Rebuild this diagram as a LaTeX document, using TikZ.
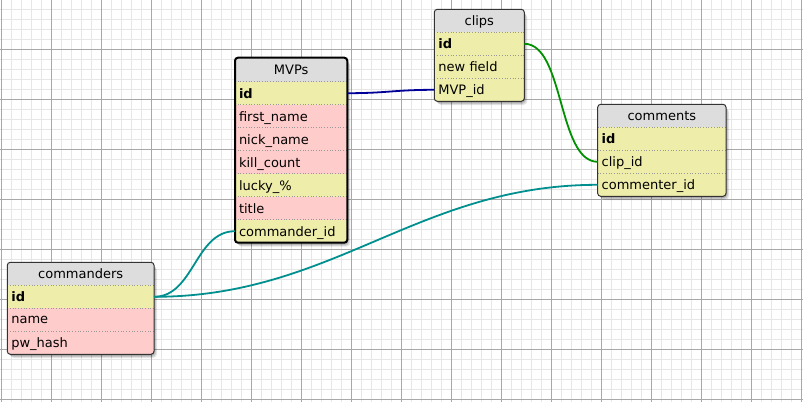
\documentclass[tikz,border=0pt]{standalone}
\usepackage{fontspec}
\setmainfont{DejaVu Sans}
\usetikzlibrary{calc}
\definecolor{gridminor}{HTML}{E6E6E6}
\definecolor{gridmajor}{HTML}{A8A8A8}
\definecolor{headfill}{HTML}{DDDDDD}
\definecolor{yelfill}{HTML}{EEEEAA}
\definecolor{pinkfill}{HTML}{FFCCCC}
\definecolor{navyline}{HTML}{000099}
\definecolor{greenline}{HTML}{009100}
\definecolor{tealline}{HTML}{008F8F}
\definecolor{tborder}{HTML}{333333}
\tikzset{
  cell/.style={anchor=north west, inner xsep=4pt, inner ysep=0pt, outer sep=0pt,
    minimum height=#1, text depth=0pt, font=\fontsize{13}{14}\selectfont},
  fieldrow/.style={cell=23, text width=\tw-8pt, align=left},
  headrow/.style={cell=23, text width=\tw-8pt, align=center},
  yel/.style={fill=yelfill},
  pink/.style={fill=pinkfill},
  hd/.style={fill=headfill},
  sep/.style={draw=gray!80, dotted, line width=0.7pt},
  frame/.style={draw=tborder, line width=1pt, rounded corners=3pt},
  selframe/.style={draw=black, line width=2pt, rounded corners=3pt},
  rel/.style={line width=1.8pt},
}
\newlength{\tw}
% \dbshadow{x}{y}{w}{h}
\newcommand{\dbshadow}[4]{%
  \foreach \s/\o in {4/0.10,3/0.12,2/0.14}{
    \fill[black, opacity=\o, rounded corners=4pt] (#1+\s-1,#2+\s) rectangle ++(#3,#4);
  }%
}
\begin{document}
\begin{tikzpicture}[x=1pt,y=-1pt]
\useasboundingbox (0,0) rectangle (803,402);
\fill[white] (0,0) rectangle (803,402);
% grid
\foreach \k in {0,...,80}{ \draw[gridminor, line width=1pt] (1.5+10*\k,0) -- (1.5+10*\k,402); }
\foreach \k in {0,...,39}{ \draw[gridminor, line width=1pt] (0,9.5+10*\k) -- (803,9.5+10*\k); }
\foreach \k in {0,...,16}{ \draw[gridmajor, line width=1pt] (1.5+50*\k,0) -- (1.5+50*\k,402); }
\foreach \k in {0,...,7}{ \draw[gridmajor, line width=1pt] (0,49.5+50*\k) -- (803,49.5+50*\k); }

% ---------- clips ----------
\setlength{\tw}{90pt}
\dbshadow{434.3}{9.3}{90}{91.7}
\begin{scope}
\clip[rounded corners=3pt] (434.3,9.3) rectangle ++(90,91.7);
\node[headrow, hd] (clips-h) at (434.3,9.3) {clips};
\node[fieldrow, yel] (clips-id) at (clips-h.south west) {\textbf{id}};
\node[fieldrow, yel] (clips-nf) at (clips-id.south west) {new field};
\node[fieldrow, yel] (clips-mvp) at (clips-nf.south west) {MVP\_id};
\end{scope}
\foreach \r in {clips-h,clips-id,clips-nf}{ \draw[sep] (\r.south west) -- (\r.south east); }
\draw[frame] (clips-h.north west) rectangle (clips-mvp.south east);

% ---------- comments ----------
\setlength{\tw}{128.3pt}
\dbshadow{597.7}{104.3}{128.3}{91.7}
\begin{scope}
\clip[rounded corners=3pt] (597.7,104.3) rectangle ++(128.3,91.7);
\node[headrow, hd] (com-h) at (597.7,104.3) {comments};
\node[fieldrow, yel] (com-id) at (com-h.south west) {\textbf{id}};
\node[fieldrow, yel] (com-clip) at (com-id.south west) {clip\_id};
\node[fieldrow, yel] (com-cmt) at (com-clip.south west) {commenter\_id};
\end{scope}
\foreach \r in {com-h,com-id,com-clip}{ \draw[sep] (\r.south west) -- (\r.south east); }
\draw[frame] (com-h.north west) rectangle (com-cmt.south east);

% ---------- commanders ----------
\setlength{\tw}{146.7pt}
\dbshadow{7.3}{262.3}{146.7}{91.7}
\begin{scope}
\clip[rounded corners=3pt] (7.3,262.3) rectangle ++(146.7,91.7);
\node[headrow, hd] (cmd-h) at (7.3,262.3) {commanders};
\node[fieldrow, yel] (cmd-id) at (cmd-h.south west) {\textbf{id}};
\node[fieldrow, pink] (cmd-name) at (cmd-id.south west) {name};
\node[fieldrow, pink] (cmd-pw) at (cmd-name.south west) {pw\_hash};
\end{scope}
\foreach \r in {cmd-h,cmd-id,cmd-name}{ \draw[sep] (\r.south west) -- (\r.south east); }
\draw[frame] (cmd-h.north west) rectangle (cmd-pw.south east);

% ---------- MVPs ----------
\setlength{\tw}{112.3pt}
\dbshadow{235}{57.7}{112.3}{185}
\begin{scope}
\clip[rounded corners=3pt] (235,57.7) rectangle ++(112.3,185);
\node[headrow, hd, minimum height=24] (mvp-h) at (235,57.7) {MVPs};
\node[fieldrow, yel] (mvp-id) at (mvp-h.south west) {\textbf{id}};
\node[fieldrow, pink] (mvp-fn) at (mvp-id.south west) {first\_name};
\node[fieldrow, pink] (mvp-nn) at (mvp-fn.south west) {nick\_name};
\node[fieldrow, pink] (mvp-kc) at (mvp-nn.south west) {kill\_count};
\node[fieldrow, yel] (mvp-lk) at (mvp-kc.south west) {lucky\_\%};
\node[fieldrow, pink] (mvp-ti) at (mvp-lk.south west) {title};
\node[fieldrow, yel] (mvp-cmd) at (mvp-ti.south west) {commander\_id};
\end{scope}
\foreach \r in {mvp-h,mvp-id,mvp-fn,mvp-nn,mvp-kc,mvp-lk,mvp-ti}{ \draw[sep] (\r.south west) -- (\r.south east); }
\draw[selframe] (mvp-h.north west) rectangle (mvp-cmd.south east);

% ---------- relations ----------
\draw[rel, navyline] (mvp-id.east) .. controls +(40,0) and +(-40,0) .. (clips-mvp.west);
\draw[rel, greenline] (clips-id.east) .. controls +(40,0) and +(-40,0) .. (com-clip.west);
\draw[rel, tealline] (cmd-id.east) .. controls +(40,0) and +(-40,0) .. (mvp-cmd.west);
\draw[rel, tealline] (cmd-id.east) .. controls +(180,0) and +(-180,0) .. (com-cmt.west);
\end{tikzpicture}
\end{document}
